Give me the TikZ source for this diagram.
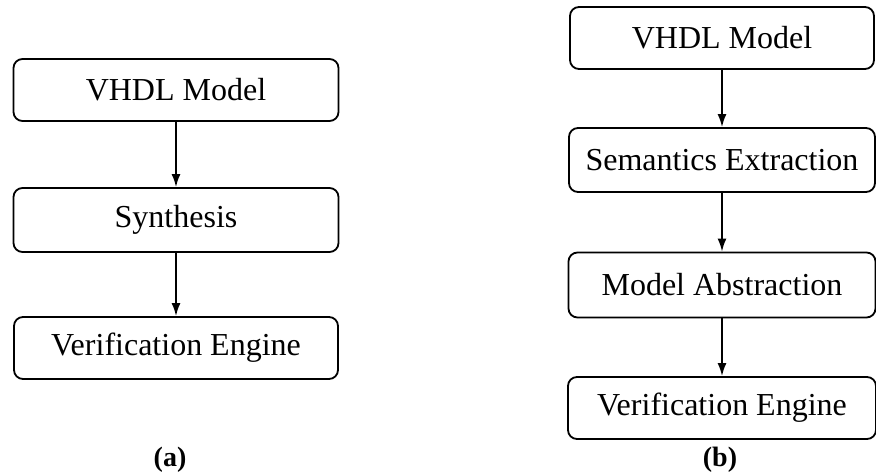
\documentclass[tikz,border=0pt]{standalone}
\usepackage{fontspec}
\setmainfont{Liberation Serif}
\usetikzlibrary{arrows.meta}

\begin{document}
\begin{tikzpicture}
    [
        x=1pt, y=-1pt,
        stage box/.style={rectangle, draw, rounded corners=9pt, line width=1.8pt, minimum height=62pt, inner sep=0pt, font=\fontsize{32}{38}\selectfont},
        flow/.style={-{Latex[length=13pt, width=9pt]}, line width=1.8pt},
        caption/.style={font=\fontsize{28}{34}\selectfont\bfseries}
    ]

    \useasboundingbox (0, 0) rectangle (876, 474);

    % (a) synthesis based flow
    \node [stage box, minimum width=325pt] (a1) at (176, 90) {VHDL Model};
    \node [stage box, minimum width=325pt, minimum height=64pt] (a2) at (176, 220) {Synthesis};
    \node [stage box, minimum width=324pt] (a3) at (176, 348) {Verification Engine};

    \draw [flow] (a1) -- (a2);
    \draw [flow] (a2) -- (a3);

    \node [caption] (capa) at (170, 460) {(a)};

    % (b) abstraction based flow
    \node [stage box, minimum width=304pt] (b1) at (722, 38) {VHDL Model};
    \node [stage box, minimum width=306pt, minimum height=64pt] (b2) at (722, 160) {Semantics Extraction};
    \node [stage box, minimum width=307pt, minimum height=65pt] (b3) at (722, 285) {Model Abstraction};
    \node [stage box, minimum width=308pt] (b4) at (722, 408) {Verification Engine};

    \draw [flow] (b1) -- (b2);
    \draw [flow] (b2) -- (b3);
    \draw [flow] (b3) -- (b4);

    \node [caption] (capb) at (720, 460) {(b)};
\end{tikzpicture}
\end{document}
